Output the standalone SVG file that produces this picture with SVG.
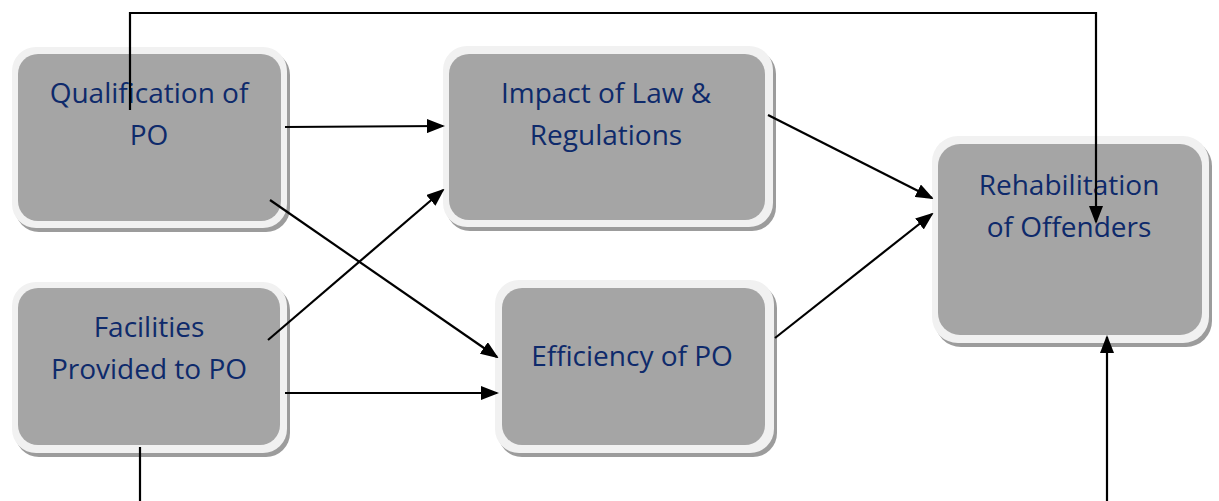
<svg xmlns="http://www.w3.org/2000/svg" width="1219" height="501" viewBox="0 0 1219 501">
<style>
.sh{fill:#9c9c9c}
.ou{fill:#f1f1f1}
.in{fill:#a5a5a5}
.t{font-family:"Open Sans","Liberation Sans",sans-serif;font-size:28px;fill:#0e2a6b;text-anchor:middle}
.c{stroke:#000;stroke-width:2.2;fill:none}
</style>
<defs>
<marker id="ah" markerWidth="18" markerHeight="14" refX="16" refY="7" orient="auto" markerUnits="userSpaceOnUse">
<path d="M0,0 L18,7 L0,14 Z" fill="#000"/>
</marker>
</defs>
<rect width="1219" height="501" fill="#fff"/>
<g id="qualification">
<rect class="sh" x="15" y="51" width="275" height="181" rx="24"/>
<rect class="ou" x="12" y="47" width="275" height="181" rx="24"/>
<rect class="in" x="18" y="54" width="263" height="167" rx="20"/>
<text class="t" x="149" y="103">Qualification of</text>
<text class="t" x="149" y="145">PO</text>
</g>
<g id="impact">
<rect class="sh" x="446" y="50" width="330" height="181" rx="24"/>
<rect class="ou" x="443" y="46" width="330" height="181" rx="24"/>
<rect class="in" x="449" y="54" width="316" height="166" rx="20"/>
<text class="t" x="606" y="103">Impact of Law &amp;</text>
<text class="t" x="606" y="145">Regulations</text>
</g>
<g id="rehabilitation">
<rect class="sh" x="935" y="140" width="277" height="207" rx="26"/>
<rect class="ou" x="932" y="136" width="277" height="207" rx="26"/>
<rect class="in" x="938" y="144" width="264" height="191" rx="22"/>
<text class="t" x="1069" y="195">Rehabilitation</text>
<text class="t" x="1069" y="237">of Offenders</text>
</g>
<g id="facilities">
<rect class="sh" x="15" y="286" width="275" height="171" rx="24"/>
<rect class="ou" x="12" y="282" width="275" height="171" rx="24"/>
<rect class="in" x="18" y="288" width="262" height="157" rx="20"/>
<text class="t" x="149" y="337">Facilities</text>
<text class="t" x="149" y="379">Provided to PO</text>
</g>
<g id="efficiency">
<rect class="sh" x="498" y="284" width="279" height="173" rx="24"/>
<rect class="ou" x="495" y="280" width="279" height="173" rx="24"/>
<rect class="in" x="502" y="288" width="263" height="157" rx="20"/>
<text class="t" x="632" y="366">Efficiency of PO</text>
</g>
<g id="connectors">
<polyline class="c" points="130,110 130,13 1096,13 1096,222" marker-end="url(#ah)"/>
<line class="c" x1="285" y1="127" x2="443" y2="126" marker-end="url(#ah)"/>
<line class="c" x1="270" y1="200" x2="497" y2="357" marker-end="url(#ah)"/>
<line class="c" x1="268" y1="340" x2="443" y2="190" marker-end="url(#ah)"/>
<line class="c" x1="285" y1="393" x2="497" y2="393" marker-end="url(#ah)"/>
<line class="c" x1="768" y1="115" x2="932" y2="198" marker-end="url(#ah)"/>
<line class="c" x1="775" y1="338" x2="932" y2="214" marker-end="url(#ah)"/>
<line class="c" x1="140" y1="447" x2="140" y2="501"/>
<line class="c" x1="1107" y1="501" x2="1107" y2="337" marker-end="url(#ah)"/>
</g>
</svg>
